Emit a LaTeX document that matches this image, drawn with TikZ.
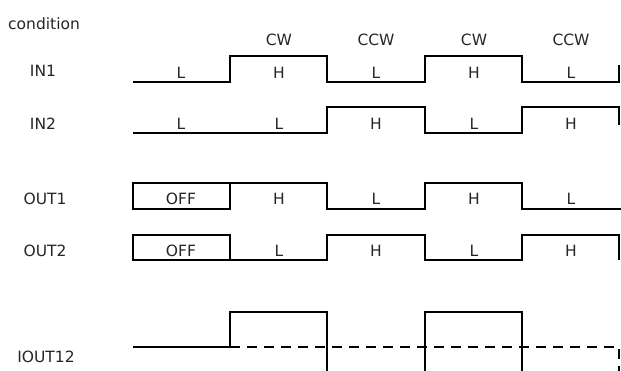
\documentclass[tikz,border=0pt]{standalone}
\usepackage{fontspec}
\setmainfont{DejaVu Sans}
\usetikzlibrary{positioning}

\tikzset{
  wave/.style={line width=1.8pt, line join=miter},
  lbl/.style={font=\fontsize{15.5}{18}\selectfont, inner sep=0pt, anchor=base, text=black!85}
}

\begin{document}
\begin{tikzpicture}[x=1pt, y=-1pt]
      \useasboundingbox (0, 0) rectangle (621, 370);

      \node [lbl, anchor=base west] (cond) at (8, 29) {condition};
      \node [lbl] (dir1) at (279, 45) {CW};
      \node [lbl] (dir2) at (376, 45) {CCW};
      \node [lbl] (dir3) at (474, 45) {CW};
      \node [lbl] (dir4) at (571, 45) {CCW};

      % IN1
      \node [lbl] (in1) at (43, 76) {IN1};
      \draw [wave] (133, 82) -- (230, 82) -- (230, 56) -- (327, 56) -- (327, 82) -- (425, 82) -- (425, 56) -- (522, 56) -- (522, 82) -- (619, 82) -- (619, 65);
      \node [lbl] (in1a) at (181, 78) {L};
      \node [lbl] (in1b) at (279, 78) {H};
      \node [lbl] (in1c) at (376, 78) {L};
      \node [lbl] (in1d) at (474, 78) {H};
      \node [lbl] (in1e) at (571, 78) {L};

      % IN2
      \node [lbl] (in2) at (43, 129) {IN2};
      \draw [wave] (133, 133) -- (327, 133) -- (327, 107) -- (425, 107) -- (425, 133) -- (522, 133) -- (522, 107) -- (619, 107) -- (619, 125);
      \node [lbl] (in2a) at (181, 129) {L};
      \node [lbl] (in2b) at (279, 129) {L};
      \node [lbl] (in2c) at (376, 129) {H};
      \node [lbl] (in2d) at (474, 129) {L};
      \node [lbl] (in2e) at (571, 129) {H};

      % OUT1
      \node [lbl] (out1) at (45, 204) {OUT1};
      \draw [wave] (133, 183) rectangle (230, 209);
      \draw [wave] (230, 183) -- (327, 183) -- (327, 209) -- (425, 209) -- (425, 183) -- (522, 183) -- (522, 209) -- (621, 209);
      \node [lbl] (out1a) at (181, 204) {OFF};
      \node [lbl] (out1b) at (279, 204) {H};
      \node [lbl] (out1c) at (376, 204) {L};
      \node [lbl] (out1d) at (474, 204) {H};
      \node [lbl] (out1e) at (571, 204) {L};

      % OUT2
      \node [lbl] (out2) at (45, 256) {OUT2};
      \draw [wave] (133, 235) rectangle (230, 260);
      \draw [wave] (230, 260) -- (327, 260) -- (327, 235) -- (425, 235) -- (425, 260) -- (522, 260) -- (522, 235) -- (619, 235) -- (619, 260);
      \node [lbl] (out2a) at (181, 256) {OFF};
      \node [lbl] (out2b) at (279, 256) {L};
      \node [lbl] (out2c) at (376, 256) {H};
      \node [lbl] (out2d) at (474, 256) {L};
      \node [lbl] (out2e) at (571, 256) {H};

      % IOUT12
      \node [lbl] (iout) at (46, 362) {IOUT12};
      \draw [wave] (133, 347) -- (230, 347) -- (230, 312) -- (327, 312) -- (327, 372);
      \draw [wave] (425, 372) -- (425, 312) -- (522, 312) -- (522, 372);
      \draw [wave, dash pattern=on 10pt off 7pt] (230, 347) -- (619, 347) -- (619, 372);
    \end{tikzpicture}
\end{document}
